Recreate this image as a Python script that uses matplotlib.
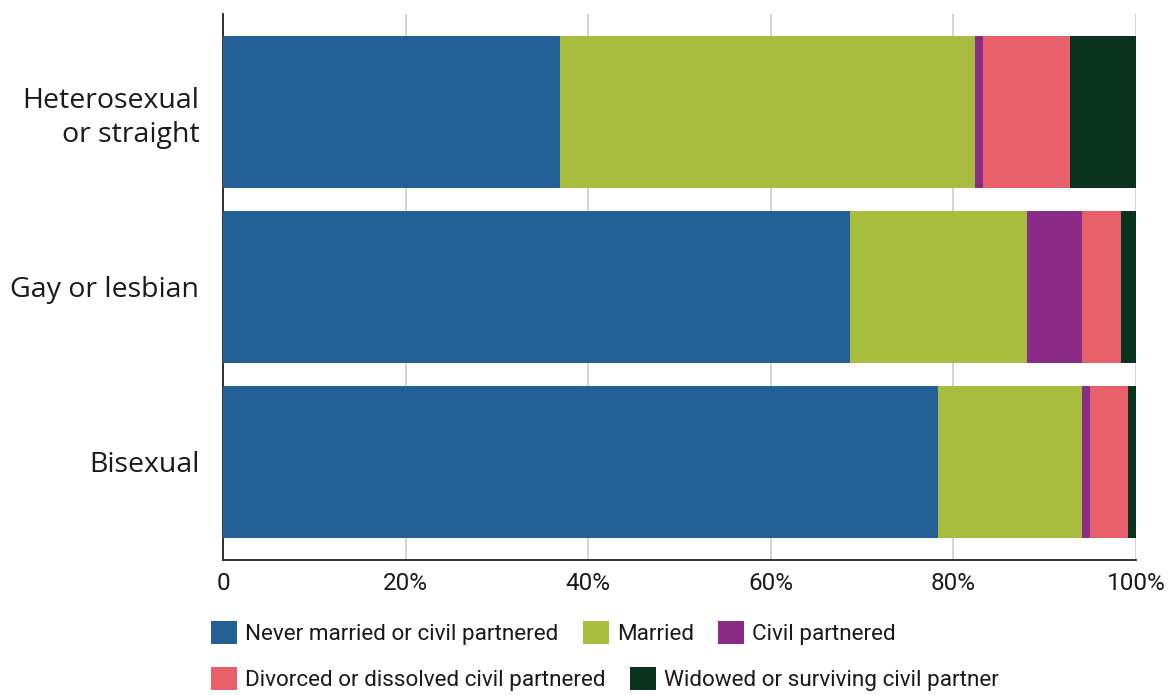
import numpy as np
import matplotlib.pyplot as plt
from matplotlib.patches import Patch

# Marital status share by sexual orientation (%)
groups = ["Heterosexual\nor straight", "Gay or lesbian", "Bisexual"]
statuses = ["Never married or civil partnered", "Married", "Civil partnered",
            "Divorced or dissolved civil partnered", "Widowed or surviving civil partner"]
never_married = [36.9, 68.7, 78.3]
married = [45.5, 19.4, 15.8]
civil_partnered = [0.8, 6.0, 0.9]
divorced = [9.6, 4.3, 4.1]
widowed = [7.2, 1.6, 0.9]
colors = ["#236096", "#a8bc3d", "#8a2c87", "#e8606a", "#09331f"]

series = [never_married, married, civil_partnered, divorced, widowed]

narrow = ["Roboto", "DejaVu Sans"]

fig = plt.figure(figsize=(11.73, 6.95), dpi=100)
ax = fig.add_axes([223 / 1173, 1 - 560 / 695, 913 / 1173, 546 / 695])

y = np.arange(len(groups))
left = np.zeros(len(groups))
for vals, col in zip(series, colors):
    ax.barh(y, vals, left=left, height=0.863, color=col, zorder=3)
    left += np.array(vals)

ax.set_xlim(0, 100)
ax.set_ylim(2.56, -0.56)
ax.set_xticks([0, 20, 40, 60, 80, 100])
ax.set_xticklabels(["0", "20%", "40%", "60%", "80%", "100%"], family=narrow, fontsize=17.5)
ax.set_yticks(y)
ax.set_yticklabels(groups, fontsize=20.5, family=["Open Sans", "DejaVu Sans"],
                   color="#1a1a1a", linespacing=1.25)
ax.tick_params(axis="both", length=0, colors="#1a1a1a")
ax.tick_params(axis="y", pad=17)
ax.tick_params(axis="x", pad=9)

ax.grid(axis="x", color="#cccccc", linewidth=1.2, zorder=0)
for side in ["top", "right"]:
    ax.spines[side].set_visible(False)
ax.spines["left"].set_color("#222222")
ax.spines["bottom"].set_color("#222222")
ax.spines["left"].set_linewidth(1.3)
ax.spines["bottom"].set_linewidth(1.3)

# two legend rows, flowing left to right
handles = [Patch(facecolor=c, edgecolor="none") for c in colors]
leg_kw = dict(frameon=False, handlelength=1.16, handleheight=1.16, handletextpad=0.36,
              columnspacing=1.07, borderaxespad=0, borderpad=0,
              prop={"family": narrow, "size": 16.2})
leg1 = fig.legend(handles[:3], statuses[:3], ncol=3, loc="center left",
                  bbox_to_anchor=(211 / 1173, 1 - 633 / 695), **leg_kw)
leg2 = fig.legend(handles[3:], statuses[3:], ncol=2, loc="center left",
                  bbox_to_anchor=(211 / 1173, 1 - 679 / 695), **leg_kw)
for leg in (leg1, leg2):
    for t in leg.get_texts():
        t.set_color("#1a1a1a")

fig.savefig("out.png", dpi=100)
